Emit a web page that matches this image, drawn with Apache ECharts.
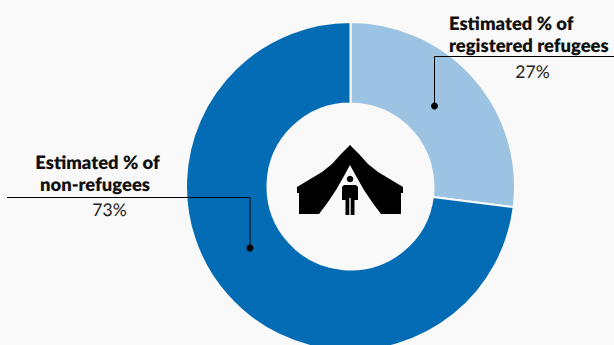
<!DOCTYPE html>
<html><head><meta charset="utf-8">
<style>html,body{margin:0;padding:0;background:#f9f9f9}#c{width:614px;height:345px}#c text{font-variant-ligatures:none;text-rendering:geometricPrecision}</style>
<script src="https://cdn.jsdelivr.net/npm/echarts@6/dist/echarts.min.js"></script></head>
<body><div id="c"></div>
<script>
const categories = ['Estimated % of registered refugees', 'Estimated % of non-refugees'];
const shares = [27, 73];
const sliceColors = ['#9dc3e3', '#046bb5'];
const shareLabels = ['27%', '73%'];

const ink = '#000000';
const font = 'Lato';
const headingFont = `800 18.4px ${font}`;
const valueFont = `400 17.5px ${font}`;

// One line of callout text
function line(x, y, text, fontSpec, fill, textAlign) {
  return { type: 'text', z: 20, style: { x, y, text, font: fontSpec, fill, textAlign, textVerticalAlign: 'middle' } };
}

// Elbow leader ending in a dot
function leader(points, dot) {
  return [
    { type: 'polyline', z: 15, shape: { points }, style: { stroke: ink, lineWidth: 1, fill: null } },
    { type: 'circle', z: 16, shape: { cx: dot[0], cy: dot[1], r: 3.5 }, style: { fill: ink } }
  ];
}

// Tent canopy and walls with the doorway cut out, then the figure standing in it
const tentOutline = [
  [350, 145], [341, 154], [332, 164], [322, 172], [297, 187], [297, 193], [299, 193], [299, 214],
  [319, 214], [328, 202], [336, 190], [344, 176], [350, 165], [356, 176], [364, 190], [372, 202], [381, 214],
  [401, 214], [401, 193], [403, 193], [403, 187], [378, 172], [368, 164], [359, 154]
];
const figureOutline = [
  [344, 185], [356, 185], [358, 187], [358, 200], [354.5, 200], [354.5, 215], [350.7, 215], [350.7, 198],
  [349.3, 198], [349.3, 215], [345.5, 215], [345.5, 200], [342, 200], [342, 187]
];
const tent = [
  { type: 'polygon', z: 18, shape: { points: tentOutline }, style: { fill: ink } },
  { type: 'circle', z: 18, shape: { cx: 350, cy: 179, r: 3.3 }, style: { fill: ink } },
  { type: 'polygon', z: 18, shape: { points: figureOutline }, style: { fill: ink } }
];

const chart = echarts.init(document.getElementById('c'), null, { renderer: 'svg' });
chart.setOption({
  backgroundColor: '#f9f9f9',
  animation: false,
  series: [{
    type: 'pie',
    center: [350.5, 186.5],
    radius: [83, 164.5],
    startAngle: 90,
    clockwise: true,
    label: { show: false },
    labelLine: { show: false },
    silent: true,
    itemStyle: { borderColor: '#f9f9f9', borderWidth: 2 },
    data: categories.map((name, i) => ({ name, value: shares[i], itemStyle: { color: sliceColors[i] } }))
  }],
  graphic: { elements: [
    ...leader([[614, 56.5], [434.5, 56.5], [434.5, 106]], [434.5, 106]),
    ...leader([[7, 197.5], [250, 197.5], [250, 248]], [250, 248]),
    line(449, 23, 'Estimated % of', headingFont, '#111', 'left'),
    line(449, 45, 'registered refugees', headingFont, '#111', 'left'),
    line(532.5, 71.5, shareLabels[0], valueFont, '#222', 'center'),
    line(97.5, 162, 'Estimated % of', headingFont, '#111', 'center'),
    line(95, 184, 'non-refugees', headingFont, '#111', 'center'),
    line(109.5, 209.5, shareLabels[1], valueFont, '#222', 'center'),
    ...tent
  ] }
});
</script></body></html>
